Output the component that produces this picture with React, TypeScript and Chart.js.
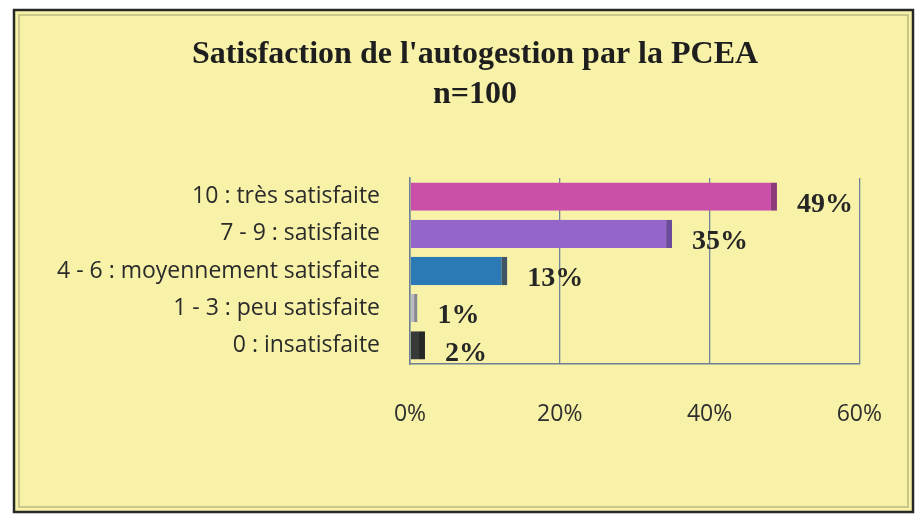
import React, { useEffect, useRef } from "react";
import { Chart, registerables } from "chart.js";

Chart.register(...registerables);

const categories = [
  "10 : très satisfaite",
  "7 - 9 : satisfaite",
  "4 - 6 : moyennement satisfaite",
  "1 - 3 : peu satisfaite",
  "0 : insatisfaite",
];
const values = [49, 35, 13, 1, 2];
const valueLabels = ["49%", "35%", "13%", "1%", "2%"];
const barColors = ["#c94fa9", "#9466c9", "#2b79b5", "#b9bcc2", "#363a38"];
const barEndColors = ["#8c3a7a", "#6a4c9a", "#3f5566", "#868a8e", "#262826"];
const titleLines = ["Satisfaction de l'autogestion par la PCEA", "n=100"];
const xTicks = [0, 20, 40, 60];

const framePlugin = {
  id: "frame",
  beforeDraw(chart: any) {
    const { ctx, width, height } = chart;
    ctx.save();
    ctx.fillStyle = "#ffffff";
    ctx.fillRect(0, 0, width, height);
    ctx.fillStyle = "#f7f2a8";
    ctx.fillRect(14, 10, width - 20, height - 21);
    ctx.strokeStyle = "#c9c88a";
    ctx.lineWidth = 2;
    ctx.strokeRect(19, 15, width - 30, height - 31);
    ctx.strokeStyle = "#262a26";
    ctx.lineWidth = 2.5;
    ctx.strokeRect(14, 10, width - 20, height - 21);
    ctx.restore();
  },
};

const titlePlugin = {
  id: "frameTitle",
  afterDraw(chart: any) {
    const { ctx } = chart;
    ctx.save();
    ctx.font = "bold 32px 'Liberation Serif', serif";
    ctx.fillStyle = "#1e1e1e";
    ctx.textAlign = "center";
    ctx.textBaseline = "middle";
    titleLines.forEach((line, i) => {
      ctx.fillText(line, 475, 55 + i * 40);
    });
    ctx.restore();
  },
};

const valueLabelPlugin = {
  id: "valueLabels",
  afterDatasetsDraw(chart: any) {
    const { ctx } = chart;
    const meta = chart.getDatasetMeta(0);
    ctx.save();
    ctx.font = "bold 28px 'Liberation Serif', serif";
    ctx.fillStyle = "#262626";
    ctx.textAlign = "left";
    ctx.textBaseline = "middle";
    meta.data.forEach((bar: any, i: number) => {
      ctx.fillText(valueLabels[i], bar.x + 20, bar.y + 8);
    });
    ctx.restore();
  },
};

export default function App() {
  const canvasRef = useRef<HTMLCanvasElement | null>(null);

  useEffect(() => {
    if (!canvasRef.current) return;
    const chart = new Chart(canvasRef.current, {
      type: "bar",
      data: {
        labels: categories,
        datasets: [
          {
            data: values,
            backgroundColor: barColors,
            borderColor: barEndColors,
            borderWidth: { top: 0, bottom: 0, left: 0, right: 6 },
            borderSkipped: false,
            barPercentage: 0.76,
            categoryPercentage: 1,
          },
        ],
      },
      options: {
        indexAxis: "y",
        responsive: false,
        animation: false,
        layout: { padding: { left: 20, right: 56, top: 178, bottom: 95 } },
        plugins: {
          legend: { display: false },
          tooltip: { enabled: false },
          title: { display: false },
        },
        scales: {
          x: {
            min: 0,
            max: 60,
            afterBuildTicks: (s: any) => {
              s.ticks = xTicks.map((v) => ({ value: v }));
            },
            afterFit: (s: any) => {
              s.height = 64;
            },
            ticks: {
              callback: (v: any) => v + "%",
              color: "#2e2e2e",
              font: { family: "'Open Sans', sans-serif", size: 23 },
              padding: 37,
            },
            grid: { color: "#72839a", lineWidth: 1.3, drawTicks: false },
            border: { display: true, color: "#6f7f94", width: 1.5 },
          },
          y: {
            afterFit: (s: any) => {
              s.width = 390;
            },
            ticks: {
              color: "#2a2a2a",
              font: { family: "'Open Sans', sans-serif", size: 23 },
              padding: 30,
            },
            grid: { display: false, drawTicks: false },
            border: { display: true, color: "#6f7f94", width: 1.5 },
          },
        },
      },
      plugins: [framePlugin, valueLabelPlugin, titlePlugin],
    });
    return () => chart.destroy();
  }, []);

  return (
    <div style={{ position: "absolute", left: 0, top: 0, width: 919, height: 523 }}>
      <canvas ref={canvasRef} width={919} height={523} />
    </div>
  );
}
